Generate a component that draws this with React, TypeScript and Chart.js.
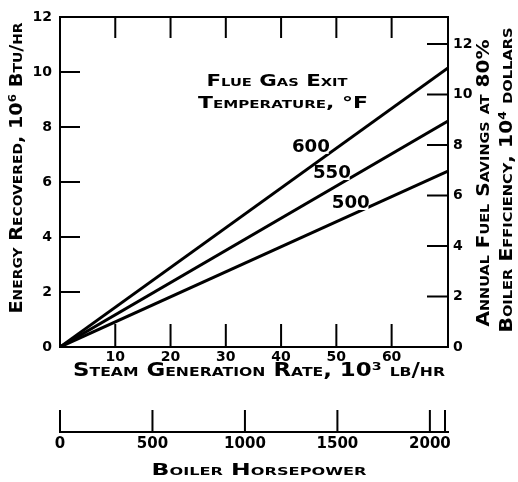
import React, { useEffect, useRef } from "react";
import { Chart, registerables } from "chart.js";

Chart.register(...registerables);

// ---- data ----
const steamRate = [0, 70.2]; // 10^3 lb/hr
const exit600 = [0, 10.15]; // 10^6 Btu/hr
const exit550 = [0, 8.22];
const exit500 = [0, 6.4];
const seriesLabels = ["600", "550", "500"];
const xTicks = [10, 20, 30, 40, 50, 60];
const yTicks = [0, 2, 4, 6, 8, 10, 12];
const savingsTicks = [0, 2, 4, 6, 8, 10, 12];
const hpTicks = [0, 500, 1000, 1500, 2000];
const hpMax = 2098;
const savingsMax = 13.07;

const FONT = "'DejaVu Sans', sans-serif";

function pts(xs: number[], ys: number[]) {
  return xs.map((x, i) => ({ x, y: ys[i] }));
}

const setTicks = (vals: number[]) => (s: any) => {
  s.ticks = vals.map((v) => ({ value: v }));
};

const decorPlugin = {
  id: "decor",
  afterDatasetsDraw(chart: any) {
    const ctx = chart.ctx as CanvasRenderingContext2D;
    const { left, right, top, bottom } = chart.chartArea;
    const sx = chart.scales.x;
    const sy = chart.scales.y;
    const sy2 = chart.scales.y2;
    const shp = chart.scales.hp;
    ctx.save();
    ctx.strokeStyle = "#000";
    ctx.lineWidth = 2;
    ctx.strokeRect(left, top, right - left, bottom - top);
    ctx.beginPath();
    // inward ticks
    sx.ticks.forEach((t: any) => {
      const px = sx.getPixelForValue(t.value);
      ctx.moveTo(px, bottom);
      ctx.lineTo(px, bottom - 23);
      ctx.moveTo(px, top);
      ctx.lineTo(px, top + 21);
    });
    sy.ticks.forEach((t: any) => {
      if (t.value <= sy.min || t.value >= sy.max) return;
      const py = sy.getPixelForValue(t.value);
      ctx.moveTo(left, py);
      ctx.lineTo(left + 20, py);
    });
    sy2.ticks.forEach((t: any) => {
      if (t.value <= sy2.min) return;
      const py = sy2.getPixelForValue(t.value);
      ctx.moveTo(right, py);
      ctx.lineTo(right - 21, py);
    });
    const hpY = shp.top;
    shp.ticks.forEach((t: any) => {
      const px = shp.getPixelForValue(t.value);
      ctx.moveTo(px, hpY);
      ctx.lineTo(px, hpY - 22);
    });
    ctx.moveTo(shp.right - 3, hpY);
    ctx.lineTo(shp.right - 3, hpY - 22);
    ctx.stroke();

    const text = (s: string, x: number, y: number, size: number, width: number, rot = 0, caps = true) => {
      ctx.save();
      ctx.translate(x, y);
      ctx.rotate(rot);
      ctx.font = `${caps ? "small-caps " : ""}bold ${size}px ${FONT}`;
      const w = ctx.measureText(s).width;
      ctx.scale(width / w, 1);
      ctx.fillStyle = "#000";
      ctx.textAlign = "center";
      ctx.textBaseline = "middle";
      ctx.fillText(s, 0, 0);
      ctx.restore();
    };
    // axis titles
    text("Energy Recovered, 10\u2076 Btu/hr", 17, 168, 18, 291, -Math.PI / 2);
    text("Annual Fuel Savings at 80%", 484, 183, 18, 287, -Math.PI / 2);
    text("Boiler Efficiency, 10\u2074 dollars", 507, 180, 18, 305, -Math.PI / 2);
    text("Steam Generation Rate, 10\u00b3 lb/hr", 259, 371, 19, 372);
    text("Boiler Horsepower", 259, 471, 16, 215);
    // annotation
    text("Flue Gas Exit", 277, 82, 16, 141);
    text("Temperature, \u00b0F", 283, 104, 16, 170);
    // series labels placed in data coordinates
    const labelPos = [
      [45.4, 7.24],
      [49.2, 6.29],
      [52.6, 5.2],
    ];
    labelPos.forEach(([vx, vy], i) => {
      const px = sx.getPixelForValue(vx);
      const py = sy.getPixelForValue(vy);
      ctx.save();
      ctx.font = `bold 17px ${FONT}`;
      const w = ctx.measureText(seriesLabels[i]).width;
      ctx.fillStyle = "#fff";
      ctx.fillRect(px - w / 2, py - 6, w, 12);
      ctx.restore();
      text(seriesLabels[i], px, py, 17, 38, 0, false);
    });
    ctx.restore();
  },
};

export default function App() {
  const ref = useRef<HTMLCanvasElement | null>(null);
  useEffect(() => {
    if (!ref.current) return;
    const tickFont = { family: FONT, weight: "bold" as const, size: 14 };
    const lineDs = (label: string, ys: number[]) => ({
      label,
      data: pts(steamRate, ys),
      borderColor: "#000",
      borderWidth: 3,
      pointRadius: 0,
      fill: false,
      tension: 0,
    });
    const chart = new Chart(ref.current, {
      type: "line",
      data: {
        datasets: [
          lineDs(seriesLabels[0], exit600),
          lineDs(seriesLabels[1], exit550),
          lineDs(seriesLabels[2], exit500),
        ],
      },
      options: {
        animation: false,
        responsive: false,
        devicePixelRatio: 1,
        layout: { padding: { top: 17, left: 0, right: 0, bottom: 0 } },
        plugins: { legend: { display: false }, tooltip: { enabled: false } },
        scales: {
          x: {
            type: "linear",
            position: "bottom",
            min: 0,
            max: steamRate[1],
            afterBuildTicks: setTicks(xTicks),
            afterFit: (s: any) => {
              s.height = 85;
            },
            grid: { display: false, drawTicks: false },
            border: { display: false },
            ticks: {
              padding: 2,
              color: "#000",
              font: tickFont,
              maxRotation: 0,
              autoSkip: false,
              callback: (v: any) => String(v),
            },
          },
          hp: {
            type: "linear",
            position: "bottom",
            min: 0,
            max: hpMax,
            afterBuildTicks: setTicks(hpTicks),
            afterFit: (s: any) => {
              s.height = 50;
            },
            grid: { display: false, drawTicks: false },
            border: { display: true, color: "#000", width: 2 },
            ticks: {
              padding: 3,
              color: "#000",
              font: { ...tickFont, size: 15 },
              maxRotation: 0,
              autoSkip: false,
              callback: (v: any) => String(v),
            },
          },
          y: {
            type: "linear",
            position: "left",
            min: 0,
            max: 12,
            afterBuildTicks: setTicks(yTicks),
            afterFit: (s: any) => {
              s.width = 60;
            },
            grid: { display: false, drawTicks: false },
            border: { display: false },
            ticks: { padding: 8, color: "#000", font: tickFont, callback: (v: any) => String(v) },
          },
          y2: {
            type: "linear",
            position: "right",
            min: 0,
            max: savingsMax,
            afterBuildTicks: setTicks(savingsTicks),
            afterFit: (s: any) => {
              s.width = 70;
            },
            grid: { display: false, drawTicks: false },
            border: { display: false },
            ticks: { padding: 5, color: "#000", font: tickFont, callback: (v: any) => String(v) },
          },
        },
      },
      plugins: [decorPlugin],
    } as any);
    return () => chart.destroy();
  }, []);
  return (
    <div style={{ position: "fixed", left: 0, top: 0, width: 518, height: 482, background: "#fff" }}>
      <canvas ref={ref} width={518} height={482} />
    </div>
  );
}
